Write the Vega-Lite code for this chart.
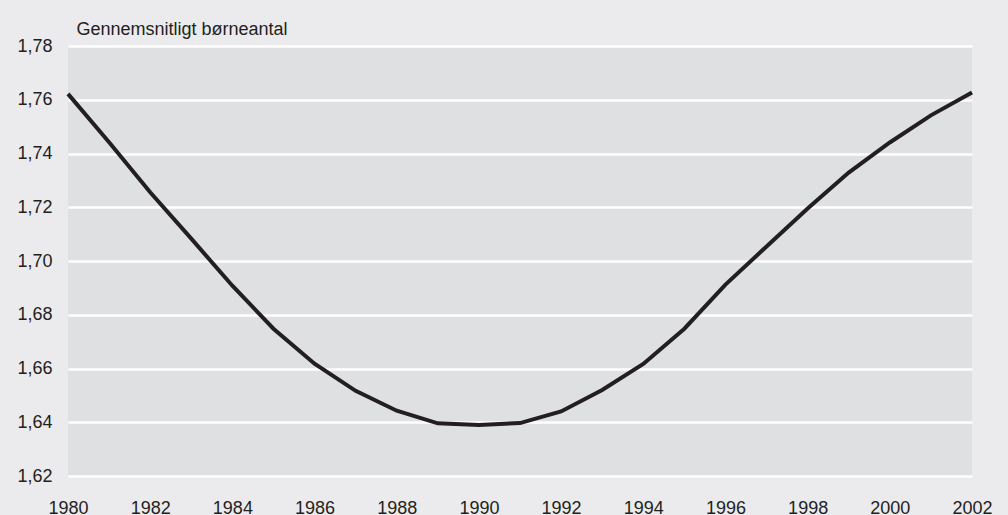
{
  "$schema": "https://vega.github.io/schema/vega-lite/v6.json",
  "width": 904,
  "height": 430,
  "autosize": {"type": "none"},
  "padding": {"left": 68, "top": 46, "right": 36, "bottom": 39},
  "background": "#ebebed",
  "config": {
    "view": {"fill": "#dfe0e2", "stroke": null},
    "font": "Liberation Sans"
  },
  "data": {
    "values": [
      {"year": 1980, "value": 1.7622},
      {"year": 1981, "value": 1.7442},
      {"year": 1982, "value": 1.7256},
      {"year": 1983, "value": 1.7083},
      {"year": 1984, "value": 1.6908},
      {"year": 1985, "value": 1.6748},
      {"year": 1986, "value": 1.6618},
      {"year": 1987, "value": 1.6517},
      {"year": 1988, "value": 1.6443},
      {"year": 1989, "value": 1.6396},
      {"year": 1990, "value": 1.639},
      {"year": 1991, "value": 1.6397},
      {"year": 1992, "value": 1.644},
      {"year": 1993, "value": 1.652},
      {"year": 1994, "value": 1.6617},
      {"year": 1995, "value": 1.6748},
      {"year": 1996, "value": 1.6912},
      {"year": 1997, "value": 1.7054},
      {"year": 1998, "value": 1.7195},
      {"year": 1999, "value": 1.7329},
      {"year": 2000, "value": 1.7441},
      {"year": 2001, "value": 1.7542},
      {"year": 2002, "value": 1.7627}
    ]
  },
  "mark": {"type": "line", "color": "#231f20", "strokeWidth": 4, "clip": false},
  "encoding": {
    "x": {
      "field": "year",
      "type": "quantitative",
      "scale": {"domain": [1980, 2002], "nice": false, "zero": false},
      "axis": {
        "values": [1980, 1982, 1984, 1986, 1988, 1990, 1992, 1994, 1996, 1998, 2000, 2002],
        "format": "d",
        "title": null,
        "grid": false,
        "domain": false,
        "ticks": false,
        "tickSize": 0,
        "labelFontSize": 18,
        "labelColor": "#231f20",
        "labelBaseline": "alphabetic",
        "labelPadding": 37,
        "labelOverlap": false,
        "labelFlush": false
      }
    },
    "y": {
      "field": "value",
      "type": "quantitative",
      "scale": {"domain": [1.62, 1.78], "nice": false, "zero": false},
      "axis": {
        "values": [1.62, 1.64, 1.66, 1.68, 1.70, 1.72, 1.74, 1.76, 1.78],
        "labelExpr": "replace(format(datum.value, '.2f'), '.', ',')",
        "title": "Gennemsnitligt børneantal",
        "titleAngle": 0,
        "titleAlign": "left",
        "titleBaseline": "alphabetic",
        "titleX": 8,
        "titleY": -12,
        "titleFontSize": 18,
        "titleFontWeight": "normal",
        "titleColor": "#231f20",
        "grid": true,
        "gridColor": "#ffffff",
        "gridWidth": 2.5,
        "gridOpacity": 1,
        "domain": false,
        "ticks": false,
        "tickSize": 0,
        "labelFontSize": 18,
        "labelColor": "#231f20",
        "labelPadding": 16,
        "labelBaseline": "middle",
        "labelFlush": false,
        "labelOverlap": false
      }
    }
  }
}
